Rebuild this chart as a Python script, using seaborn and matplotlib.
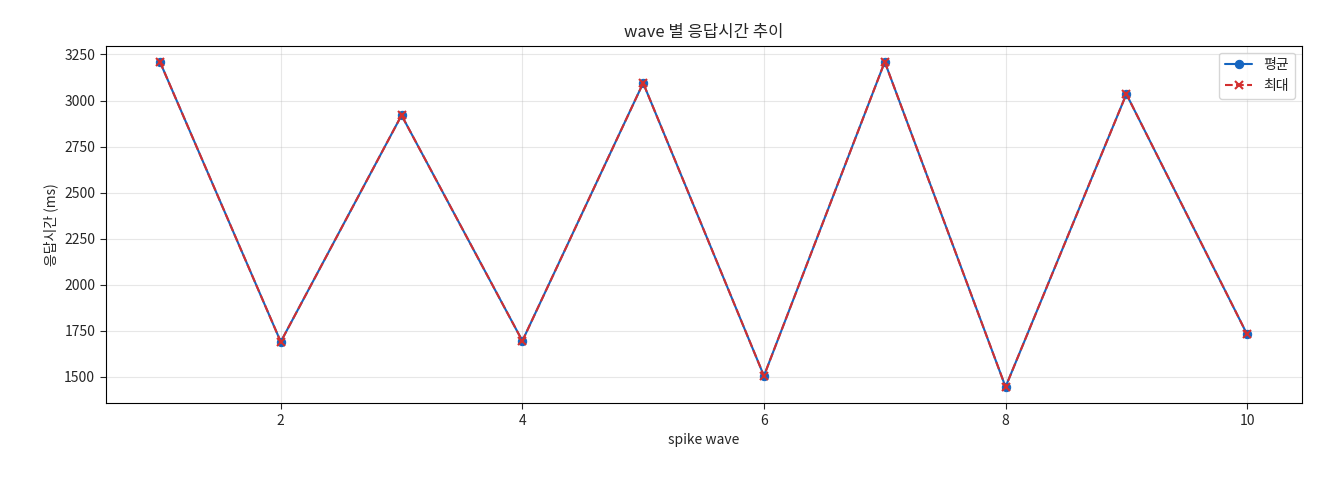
import matplotlib
matplotlib.use('Agg')
import matplotlib.pyplot as plt
import seaborn as sns
import pandas as pd

waves = [1, 2, 3, 4, 5, 6, 7, 8, 9, 10]
avg_ms = [3210, 1690, 2920, 1695, 3095, 1505, 3210, 1445, 3035, 1730]
max_ms = [3210, 1690, 2920, 1695, 3095, 1505, 3210, 1445, 3035, 1730]

sns.set_style('white')
plt.rcParams['font.family'] = ['Noto Sans CJK KR', 'DejaVu Sans']
plt.rcParams['axes.unicode_minus'] = False

df = pd.DataFrame({'wave': waves, 'avg': avg_ms, 'max': max_ms})

fig, ax = plt.subplots(figsize=(13.2, 4.8), dpi=100)
sns.lineplot(data=df, x='wave', y='avg', ax=ax, color='#1565C0', marker='o',
             markersize=6, markeredgecolor='#1565C0', linewidth=1.5, label='평균')
sns.lineplot(data=df, x='wave', y='max', ax=ax, color='#D32F2F', marker='x',
             markersize=6, markeredgecolor='#D32F2F', markeredgewidth=1.5,
             linewidth=1.5, label='최대')
# seaborn overrides linestyle; force dashed on the max line
ax.lines[1].set_linestyle('--')

ax.set_title('wave 별 응답시간 추이', fontsize=12)
ax.set_xlabel('spike wave', fontsize=10)
ax.set_ylabel('응답시간 (ms)', fontsize=10)
ax.grid(True, alpha=0.35, color='#bbbbbb')
for s in ax.spines.values():
    s.set_color('black')
    s.set_linewidth(0.8)
ax.tick_params(axis='both', length=4, direction='out', bottom=True, left=True)
leg = ax.legend(loc='upper right', fontsize=10)
leg.get_lines()[1].set_linestyle('--')

fig.subplots_adjust(left=0.08, right=0.986, top=0.905, bottom=0.16)
fig.savefig('out.png', dpi=100)
